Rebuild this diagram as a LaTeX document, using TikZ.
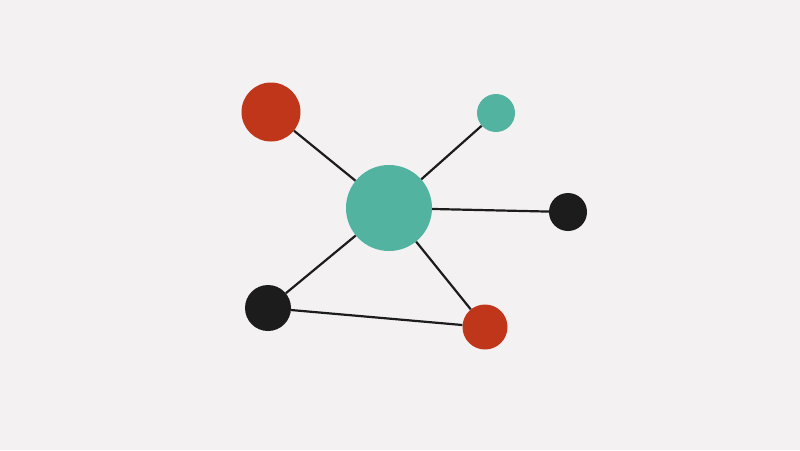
\documentclass[tikz,border=0pt]{standalone}
\usepackage{tikz}
\definecolor{bgcol}{HTML}{F3F1F1}
\definecolor{redcol}{HTML}{C0361A}
\definecolor{tealcol}{HTML}{52B4A0}
\definecolor{blackcol}{HTML}{1C1C1C}
\tikzset{
	dot/.style={circle,inner sep=0pt,draw=none,fill=#1},
	link/.style={line width=2.2pt,color=blackcol}
}
\begin{document}
\begin{tikzpicture}[x=1pt,y=-1pt]
	\fill[bgcol] (0,0) rectangle (800,450);
	\useasboundingbox (0,0) rectangle (800,450);
\node[dot=tealcol,minimum size=86pt] (hub) at (389,208) {};
\node[dot=redcol,minimum size=59pt] (redtl) at (271,112) {};
\node[dot=tealcol,minimum size=38pt] (tealtr) at (496,113) {};
\node[dot=blackcol,minimum size=38pt] (blackr) at (568,212) {};
\node[dot=blackcol,minimum size=46pt] (blackbl) at (268,308) {};
\node[dot=redcol,minimum size=45pt] (redbr) at (485,327) {};
\draw[link] (hub) -- (redtl);
\draw[link] (hub) -- (tealtr);
\draw[link] (hub) -- (blackr);
\draw[link] (hub) -- (blackbl);
\draw[link] (hub) -- (redbr);
\draw[link] (blackbl) -- (redbr);
\end{tikzpicture}
\end{document}
